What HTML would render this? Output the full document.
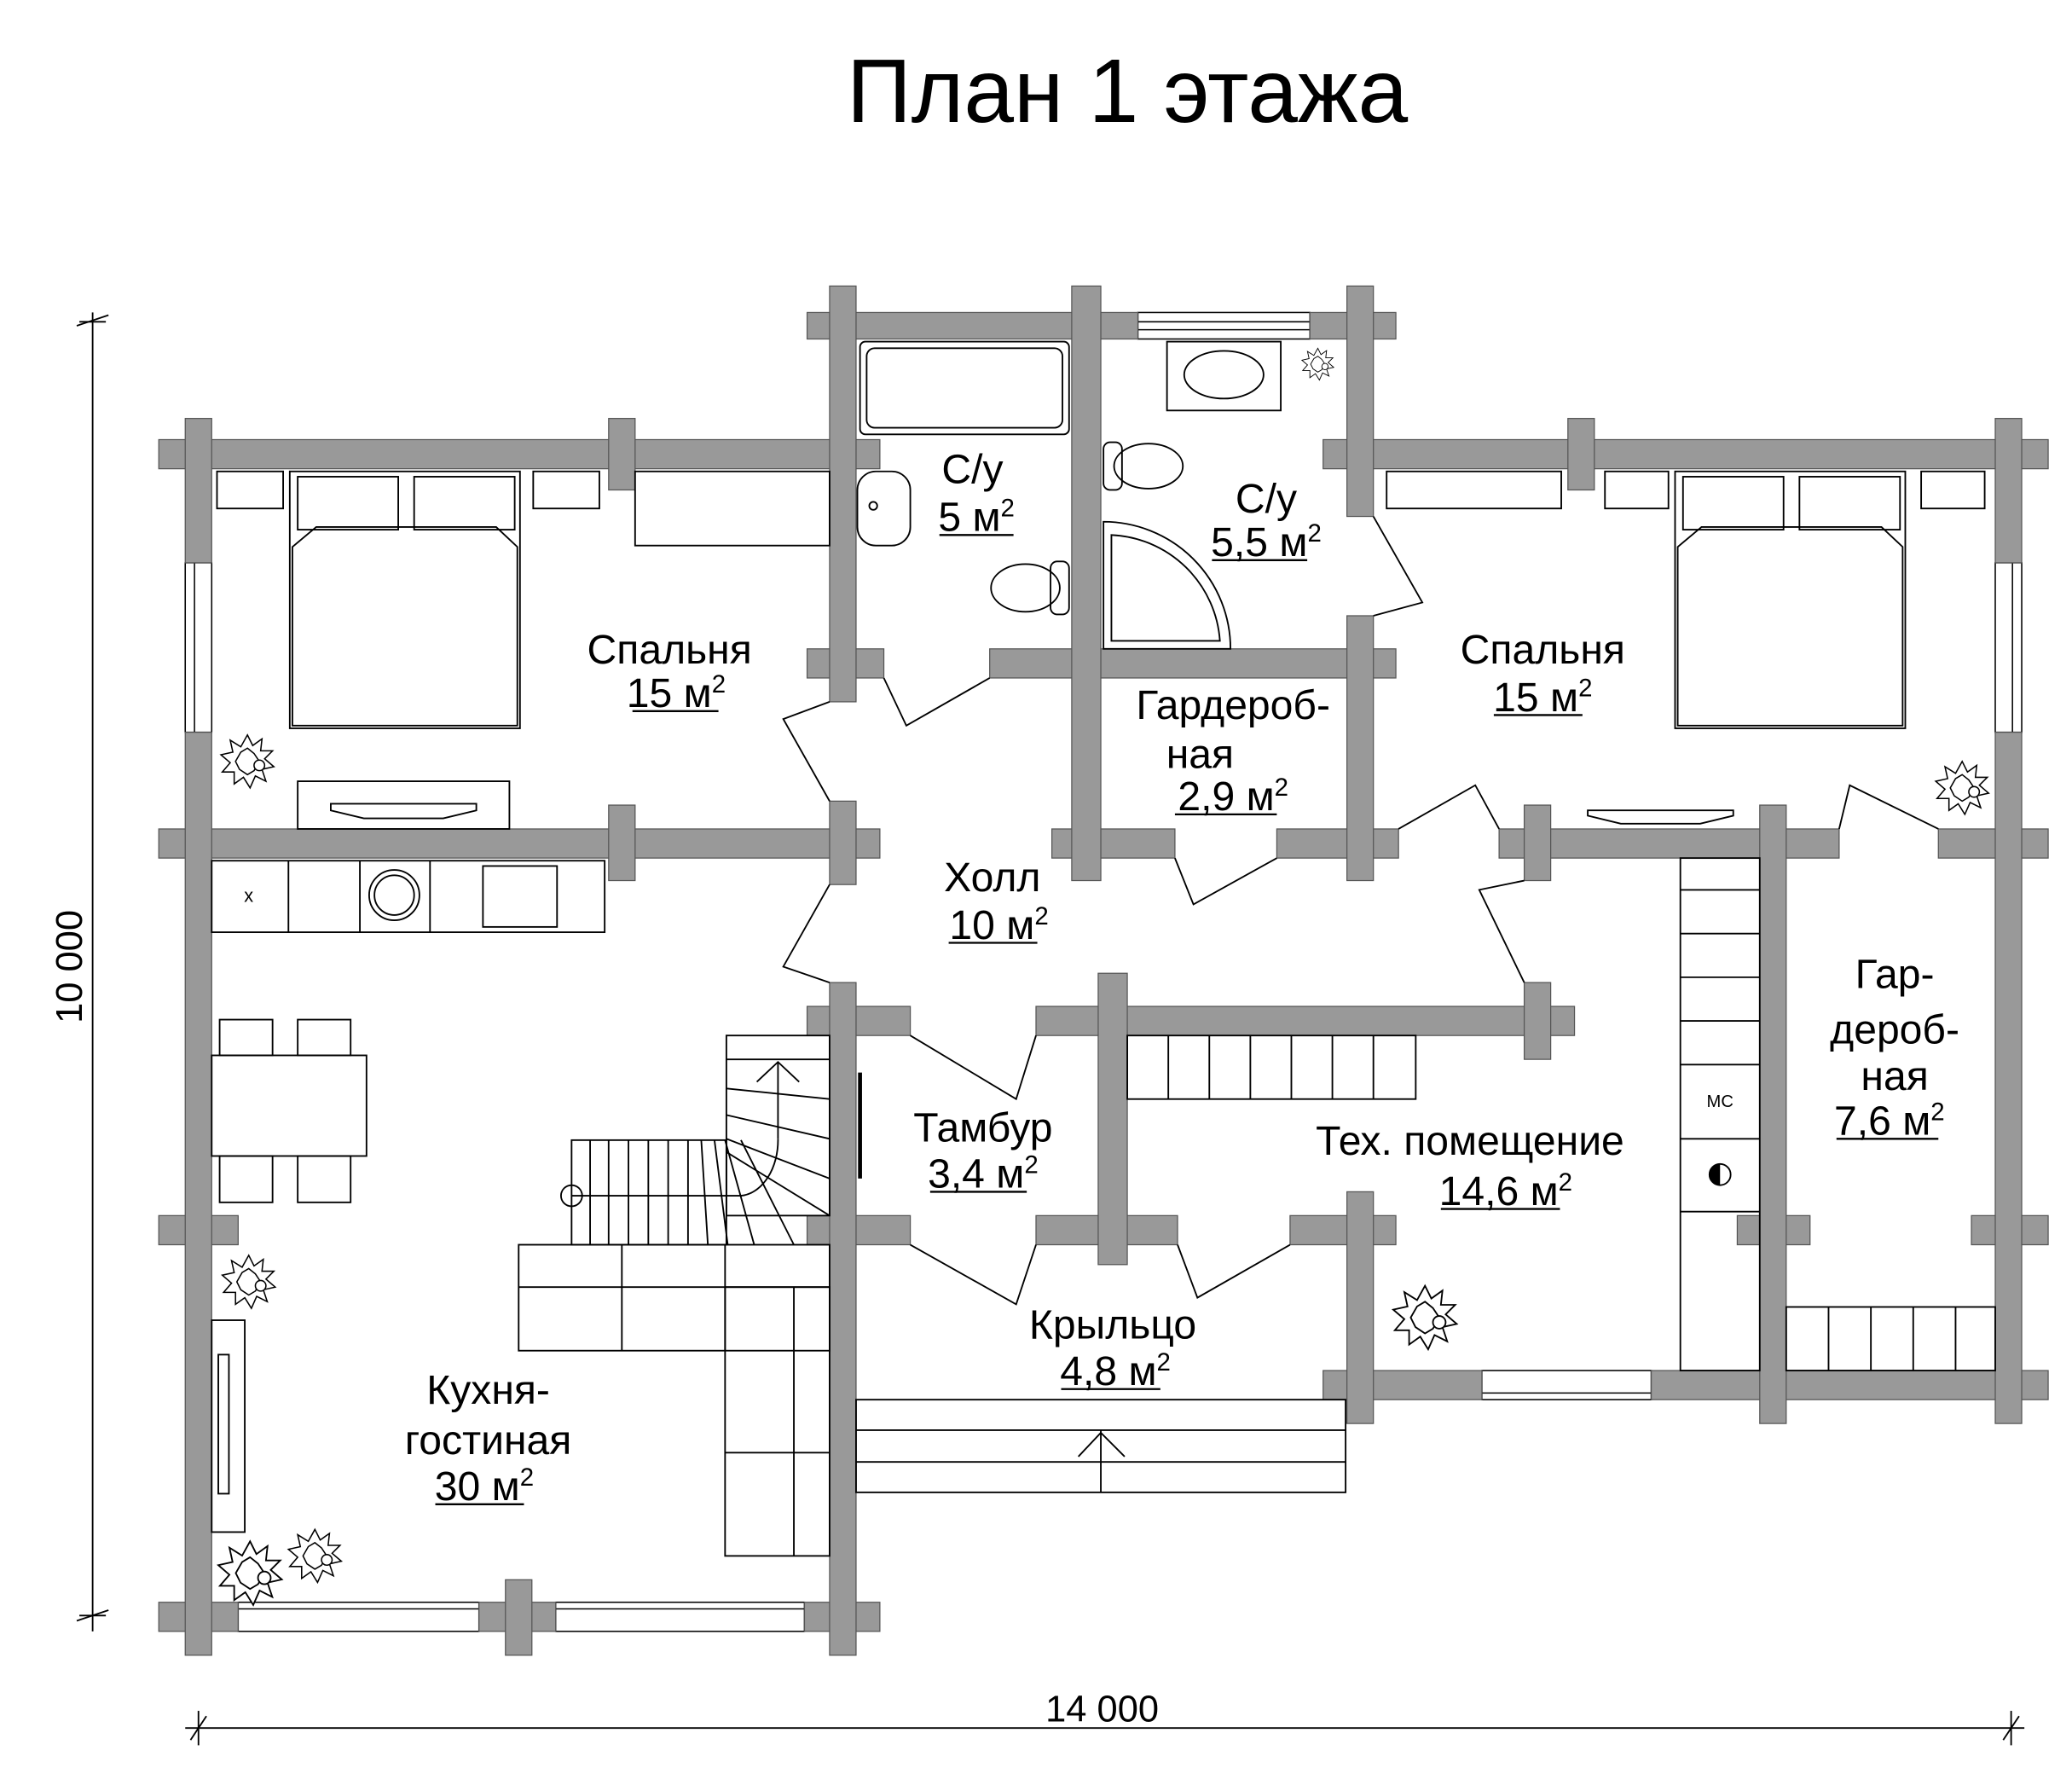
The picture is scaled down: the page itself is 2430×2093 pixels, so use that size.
<!DOCTYPE html>
<html><head><meta charset="utf-8"><style>
html,body{margin:0;padding:0;background:#fff}
svg{display:block}
text{font-family:"Liberation Sans",sans-serif;fill:#000}
</style></head><body>
<svg width="2430" height="2093" viewBox="0 0 1566 1348" preserveAspectRatio="none" xmlns="http://www.w3.org/2000/svg">
<defs>
<g id="pl" fill="#fff" stroke="#000" stroke-width="1">
<polygon points="0,-20 4,-12 11,-17 10,-8 19,-8 13,-2 20,4 11,6 14,15 6,11 2,20 -3,12 -10,17 -10,8 -19,8 -13,1 -20,-5 -11,-7 -13,-16 -5,-11"/>
<polygon points="0,-10 5,-6 9,0 5,7 0,10 -6,6 -9,0 -5,-7"/>
<circle cx="9" cy="3" r="4"/>
</g>
</defs>
<text x="852" y="92" font-size="68" text-anchor="middle">План 1 этажа</text>

<g stroke="#000" stroke-width="1.2" fill="none">
<line x1="70" y1="236" x2="70" y2="1232"/>
<line x1="58" y1="246" x2="82" y2="238"/><line x1="58" y1="1224" x2="82" y2="1216"/>
<line x1="60" y1="243" x2="80" y2="243"/><line x1="60" y1="1220" x2="80" y2="1220"/>
<line x1="140" y1="1305" x2="1530" y2="1305"/>
<line x1="150" y1="1292" x2="150" y2="1318"/><line x1="1520" y1="1292" x2="1520" y2="1318"/>
<line x1="144" y1="1314" x2="156" y2="1296"/><line x1="1514" y1="1314" x2="1526" y2="1296"/>
</g>
<text x="833" y="1300" font-size="28" text-anchor="middle">14 000</text>
<text x="62" y="730" font-size="28" text-anchor="middle" transform="rotate(-90 62 730)">10 000</text>

<g stroke="#000" stroke-width="1" fill="#fff">
<rect x="860" y="236" width="130" height="20"/><line x1="860" y1="243" x2="990" y2="243"/><line x1="860" y1="249" x2="990" y2="249"/>
<rect x="140" y="425" width="20" height="128"/><line x1="147" y1="425" x2="147" y2="553"/>
<rect x="1508" y="425" width="20" height="128"/><line x1="1521" y1="425" x2="1521" y2="553"/>
<rect x="180" y="1210" width="182" height="22"/><line x1="180" y1="1215" x2="362" y2="1215"/>
<rect x="420" y="1210" width="188" height="22"/><line x1="420" y1="1215" x2="608" y2="1215"/>
<rect x="1120" y="1035" width="128" height="22"/><line x1="1120" y1="1052" x2="1248" y2="1052"/>
</g>

<g fill="#999" stroke="#555" stroke-width="0.8">
<rect x="120" y="332" width="545" height="22"/>
<rect x="1000" y="332" width="548" height="22"/>
<rect x="610" y="236" width="250" height="20"/>
<rect x="990" y="236" width="65" height="20"/>
<rect x="610" y="490" width="58" height="22"/>
<rect x="748" y="490" width="307" height="22"/>
<rect x="120" y="626" width="545" height="22"/>
<rect x="795" y="626" width="93" height="22"/>
<rect x="965" y="626" width="92" height="22"/>
<rect x="1133" y="626" width="257" height="22"/>
<rect x="1465" y="626" width="83" height="22"/>
<rect x="610" y="760" width="78" height="22"/>
<rect x="783" y="760" width="407" height="22"/>
<rect x="120" y="918" width="60" height="22"/>
<rect x="610" y="918" width="78" height="22"/>
<rect x="783" y="918" width="107" height="22"/>
<rect x="975" y="918" width="80" height="22"/>
<rect x="1000" y="1035" width="120" height="22"/>
<rect x="1248" y="1035" width="300" height="22"/>
<rect x="1313" y="918" width="55" height="22"/>
<rect x="1490" y="918" width="58" height="22"/>
<rect x="120" y="1210" width="60" height="22"/>
<rect x="362" y="1210" width="58" height="22"/>
<rect x="608" y="1210" width="57" height="22"/>
<rect x="140" y="316" width="20" height="109"/>
<rect x="140" y="553" width="20" height="697"/>
<rect x="1508" y="316" width="20" height="109"/>
<rect x="1508" y="553" width="20" height="522"/>
<rect x="627" y="216" width="20" height="314"/>
<rect x="627" y="605" width="20" height="63"/>
<rect x="627" y="742" width="20" height="508"/>
<rect x="810" y="216" width="22" height="449"/>
<rect x="1018" y="216" width="20" height="174"/>
<rect x="1018" y="465" width="20" height="200"/>
<rect x="830" y="735" width="22" height="220"/>
<rect x="1018" y="900" width="20" height="175"/>
<rect x="1152" y="608" width="20" height="57"/>
<rect x="1152" y="742" width="20" height="58"/>
<rect x="1330" y="608" width="20" height="467"/>
<rect x="460" y="316" width="20" height="54"/>
<rect x="460" y="608" width="20" height="57"/>
<rect x="1185" y="316" width="20" height="54"/>
<rect x="382" y="1193" width="20" height="57"/>
</g>

<g stroke="#000" stroke-width="1.2" fill="none">
<polyline points="668,512 685,548 748,512"/>
<polyline points="627,530 592,543 627,605"/>
<polyline points="627,668 592,730 627,742"/>
<polyline points="888,648 902,683 965,648"/>
<polyline points="1038,390 1075,455 1038,465"/>
<polyline points="1057,626 1115,593 1133,626"/>
<polyline points="1152,742 1118,672 1152,665"/>
<polyline points="1390,626 1398,593 1465,626"/>
<polyline points="688,782 768,830 783,782"/>
<polyline points="688,940 768,985 783,940"/>
<polyline points="890,940 905,980 975,940"/>
</g>

<g stroke="#000" stroke-width="1.2" fill="none">
<rect x="164" y="356" width="50" height="28"/>
<rect x="403" y="356" width="50" height="28"/>
<rect x="219" y="356" width="174" height="194"/>
<rect x="225" y="360" width="76" height="40"/><rect x="313" y="360" width="76" height="40"/>
<polygon points="239,398 375,398 391,413 391,548 221,548 221,413"/>
<rect x="480" y="356" width="147" height="56"/>
<rect x="225" y="590" width="160" height="36"/>
<polygon points="250,607 360,607 360,612 335,618 275,618 250,612"/>
<rect x="650" y="258" width="158" height="70" rx="4"/>
<rect x="655" y="263" width="148" height="60" rx="6"/>
<rect x="648" y="356" width="40" height="56" rx="14"/>
<circle cx="660" cy="382" r="3"/>
<ellipse cx="775" cy="444" rx="26" ry="18"/><rect x="794" y="424" width="14" height="40" rx="5"/>
<rect x="882" y="258" width="86" height="52"/>
<ellipse cx="925" cy="283" rx="30" ry="18"/>
<ellipse cx="868" cy="352" rx="26" ry="17"/><rect x="834" y="334" width="14" height="36" rx="5"/>
<path d="M834,394 L834,490 L930,490 A96,96 0 0 0 834,394 Z"/>
<path d="M840,404 L840,484 L922,484 A86,86 0 0 0 840,404 Z"/>
<rect x="1048" y="356" width="132" height="28"/>
<rect x="1213" y="356" width="48" height="28"/>
<rect x="1452" y="356" width="48" height="28"/>
<rect x="1266" y="356" width="174" height="194"/>
<rect x="1272" y="360" width="76" height="40"/><rect x="1360" y="360" width="76" height="40"/>
<polygon points="1286,398 1422,398 1438,413 1438,548 1268,548 1268,413"/>
<polygon points="1200,612 1310,612 1310,616 1285,622 1225,622 1200,616"/>
<rect x="160" y="650" width="297" height="54"/>
<line x1="218" y1="650" x2="218" y2="704"/><line x1="272" y1="650" x2="272" y2="704"/><line x1="325" y1="650" x2="325" y2="704"/>
<circle cx="298" cy="676" r="19"/><circle cx="298" cy="676" r="15"/>
<rect x="365" y="654" width="56" height="46"/>
<rect x="160" y="797" width="117" height="76"/>
<rect x="166" y="770" width="40" height="27"/><rect x="225" y="770" width="40" height="27"/>
<rect x="166" y="873" width="40" height="35"/><rect x="225" y="873" width="40" height="35"/>
<rect x="549" y="782" width="78" height="136"/>
<line x1="549" y1="800" x2="627" y2="800"/>
<polyline points="572,817 588,802 604,817"/>
<line x1="588" y1="802" x2="588" y2="860"/>
<rect x="432" y="861" width="117" height="79"/>
<line x1="549" y1="822" x2="627" y2="830"/><line x1="549" y1="842" x2="627" y2="860"/>
<line x1="549" y1="860" x2="627" y2="890"/><line x1="549" y1="870" x2="627" y2="918"/>
<line x1="560" y1="861" x2="600" y2="940"/><line x1="548" y1="861" x2="570" y2="940"/>
<line x1="540" y1="861" x2="550" y2="940"/><line x1="530" y1="861" x2="535" y2="940"/>
<line x1="520" y1="861" x2="520" y2="940"/>
<line x1="505" y1="861" x2="505" y2="940"/><line x1="490" y1="861" x2="490" y2="940"/>
<line x1="475" y1="861" x2="475" y2="940"/><line x1="460" y1="861" x2="460" y2="940"/>
<line x1="446" y1="861" x2="446" y2="940"/>
<path d="M432,903 L560,903 A30,42 0 0 0 588,860"/>
<circle cx="432" cy="903" r="8"/>
<line x1="650" y1="810" x2="650" y2="890" stroke-width="3"/>
<rect x="392" y="940" width="235" height="80"/>
<line x1="392" y1="972" x2="627" y2="972"/>
<line x1="470" y1="940" x2="470" y2="1020"/><line x1="548" y1="940" x2="548" y2="1020"/>
<rect x="548" y="972" width="79" height="203"/>
<line x1="548" y1="1097" x2="627" y2="1097"/>
<line x1="600" y1="972" x2="600" y2="1175"/>
<rect x="160" y="997" width="25" height="160"/>
<rect x="165" y="1023" width="8" height="105"/>
<rect x="647" y="1057" width="370" height="70"/>
<line x1="647" y1="1080" x2="1017" y2="1080"/><line x1="647" y1="1104" x2="1017" y2="1104"/>
<line x1="832" y1="1080" x2="832" y2="1127"/>
<polyline points="815,1100 832,1082 850,1100"/>
<rect x="852" y="782" width="218" height="48"/>
<line x1="883" y1="782" x2="883" y2="830"/><line x1="914" y1="782" x2="914" y2="830"/><line x1="945" y1="782" x2="945" y2="830"/>
<line x1="976" y1="782" x2="976" y2="830"/><line x1="1007" y1="782" x2="1007" y2="830"/><line x1="1038" y1="782" x2="1038" y2="830"/>
<rect x="1270" y="648" width="60" height="387"/>
<line x1="1270" y1="672" x2="1330" y2="672"/><line x1="1270" y1="705" x2="1330" y2="705"/>
<line x1="1270" y1="738" x2="1330" y2="738"/><line x1="1270" y1="771" x2="1330" y2="771"/>
<line x1="1270" y1="804" x2="1330" y2="804"/><line x1="1270" y1="860" x2="1330" y2="860"/>
<line x1="1270" y1="915" x2="1330" y2="915"/>
<circle cx="1300" cy="887" r="8"/>
<rect x="1350" y="987" width="158" height="48"/>
<line x1="1382" y1="987" x2="1382" y2="1035"/><line x1="1414" y1="987" x2="1414" y2="1035"/>
<line x1="1446" y1="987" x2="1446" y2="1035"/><line x1="1478" y1="987" x2="1478" y2="1035"/>
</g>
<use href="#pl" transform="translate(187,575)"/>
<use href="#pl" transform="translate(1483,595)"/>
<use href="#pl" transform="translate(996,275) scale(0.6)"/>
<use href="#pl" transform="translate(188,968)"/>
<use href="#pl" transform="translate(1077,995) scale(1.2)"/>
<use href="#pl" transform="translate(189,1188) scale(1.2)"/>
<use href="#pl" transform="translate(238,1175)"/>
<path d="M1300,879 A8,8 0 0 0 1300,895 Z" fill="#000"/>
<text x="188" y="681" font-size="14" text-anchor="middle">x</text>
<text x="1300" y="836" font-size="13" text-anchor="middle">МС</text>

<g font-size="31" text-anchor="middle">
<text x="506" y="501">Спальня</text>
<text x="511" y="534">15 м<tspan font-size="19" dy="-11">2</tspan></text>
<text x="735" y="365">С/у</text>
<text x="738" y="401">5 м<tspan font-size="19" dy="-11">2</tspan></text>
<text x="957" y="387">С/у</text>
<text x="957" y="420">5,5 м<tspan font-size="19" dy="-11">2</tspan></text>
<text x="1166" y="501">Спальня</text>
<text x="1166" y="537">15 м<tspan font-size="19" dy="-11">2</tspan></text>
<text x="932" y="543">Гардероб-</text>
<text x="907" y="580">ная</text>
<text x="932" y="612">2,9 м<tspan font-size="19" dy="-11">2</tspan></text>
<text x="750" y="673">Холл</text>
<text x="755" y="709">10 м<tspan font-size="19" dy="-11">2</tspan></text>
<text x="743" y="862">Тамбур</text>
<text x="743" y="897">3,4 м<tspan font-size="19" dy="-11">2</tspan></text>
<text x="1111" y="872">Тех. помещение</text>
<text x="1138" y="910">14,6 м<tspan font-size="19" dy="-11">2</tspan></text>
<text x="1432" y="746">Гар-</text>
<text x="1432" y="788">дероб-</text>
<text x="1432" y="823">ная</text>
<text x="1428" y="857">7,6 м<tspan font-size="19" dy="-11">2</tspan></text>
<text x="841" y="1011">Крыльцо</text>
<text x="843" y="1046">4,8 м<tspan font-size="19" dy="-11">2</tspan></text>
<text x="369" y="1060">Кухня-</text>
<text x="369" y="1098">гостиная</text>
<text x="366" y="1133">30 м<tspan font-size="19" dy="-11">2</tspan></text>
</g>
<g stroke="#000" stroke-width="1.5">
<line x1="478" y1="537" x2="543" y2="537"/><line x1="710" y1="404" x2="766" y2="404"/>
<line x1="916" y1="423" x2="988" y2="423"/><line x1="1129" y1="540" x2="1196" y2="540"/>
<line x1="888" y1="615" x2="965" y2="615"/><line x1="717" y1="712" x2="784" y2="712"/>
<line x1="703" y1="900" x2="776" y2="900"/><line x1="1089" y1="913" x2="1179" y2="913"/>
<line x1="1388" y1="860" x2="1465" y2="860"/><line x1="802" y1="1049" x2="877" y2="1049"/>
<line x1="329" y1="1136" x2="396" y2="1136"/>
</g>
</svg>
</body></html>
